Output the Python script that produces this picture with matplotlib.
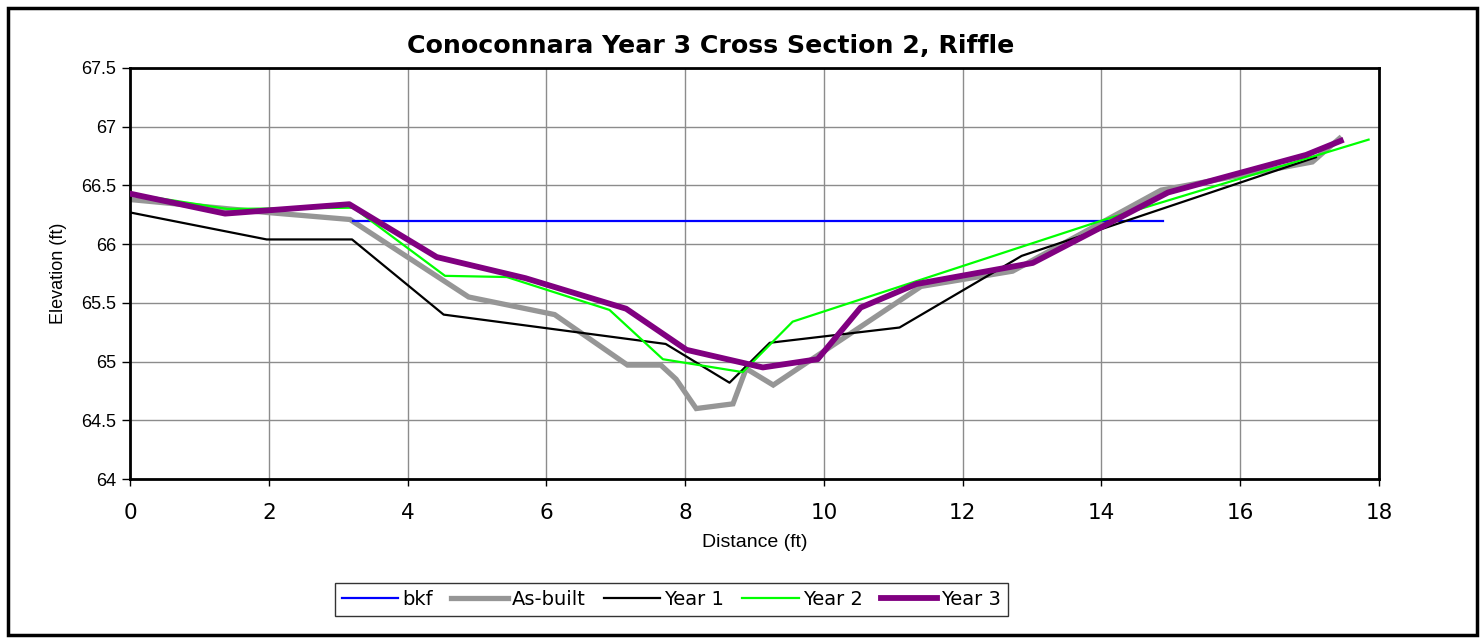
import matplotlib
matplotlib.use("Agg")
import matplotlib.pyplot as plt
from matplotlib.patches import Rectangle

plt.rcParams['font.family'] = ['Liberation Sans', 'DejaVu Sans']

# Cross-section survey data: station (ft) and elevation (ft)
bkf_x = [3.22, 14.88]
bkf_y = [66.20, 66.20]

asbuilt_x = [0.0, 1.97, 3.17, 4.88, 6.12, 7.17, 7.65, 7.87, 8.16, 8.69, 8.88, 9.27,
             11.40, 12.72, 14.86, 17.04, 17.43]
asbuilt_y = [66.38, 66.27, 66.21, 65.55, 65.40, 64.97, 64.97, 64.85, 64.60, 64.64, 64.94, 64.80,
             65.64, 65.77, 66.46, 66.70, 66.90]

year1_x = [0.0, 1.97, 3.20, 4.52, 7.72, 8.64, 9.22, 11.09, 12.85, 17.09]
year1_y = [66.27, 66.04, 66.04, 65.40, 65.15, 64.82, 65.16, 65.29, 65.90, 66.74]

year2_x = [0.0, 1.40, 3.22, 4.54, 5.43, 6.91, 7.68, 8.83, 9.55, 14.00, 17.85]
year2_y = [66.43, 66.30, 66.31, 65.73, 65.72, 65.44, 65.02, 64.91, 65.34, 66.20, 66.89]

year3_x = [0.0, 1.37, 3.16, 4.42, 5.70, 7.15, 8.02, 9.12, 9.91, 10.53, 11.33, 13.01,
           14.96, 16.95, 17.45]
year3_y = [66.43, 66.26, 66.34, 65.89, 65.71, 65.45, 65.10, 64.95, 65.02, 65.46, 65.66, 65.84,
           66.44, 66.76, 66.88]

x_ticks = [0, 2, 4, 6, 8, 10, 12, 14, 16, 18]
y_ticks = [64, 64.5, 65, 65.5, 66, 66.5, 67, 67.5]
y_tick_labels = ['64', '64.5', '65', '65.5', '66', '66.5', '67', '67.5']

WIDE = ['DejaVu Sans']

W, H = 1482, 639
fig = plt.figure(figsize=(W / 100, H / 100), dpi=100)
ax = fig.add_axes([130 / W, 1 - 479 / H, (1379 - 130) / W, (479 - 68) / H])

ax.plot(bkf_x, bkf_y, color='#0000FF', lw=1.6, label='bkf', zorder=3)
ax.plot(asbuilt_x, asbuilt_y, color='#969696', lw=3.8, label='As-built', zorder=2,
        solid_joinstyle='miter')
ax.plot(year1_x, year1_y, color='#000000', lw=1.6, label='Year 1', zorder=4)
ax.plot(year2_x, year2_y, color='#00FF00', lw=1.6, label='Year 2', zorder=5)
ax.plot(year3_x, year3_y, color='#800080', lw=4.2, label='Year 3', zorder=6)

ax.set_xlim(0, 18)
ax.set_ylim(64, 67.5)
ax.set_xticks(x_ticks)
ax.set_xticklabels([str(v) for v in x_ticks], family=WIDE, fontsize=15.5)
ax.set_yticks(y_ticks)
ax.set_yticklabels(y_tick_labels)
ax.tick_params(axis='x', length=5, width=1, direction='out', pad=12)
ax.tick_params(axis='y', labelsize=13, length=6, width=1, direction='out', pad=4)
ax.grid(True, color='#8c8c8c', lw=1.0)
ax.set_axisbelow(True)
for sp in ax.spines.values():
    sp.set_linewidth(2.0)
    sp.set_color('black')

ax.set_xlabel('Distance (ft)', fontsize=14, labelpad=8)
ax.set_ylabel('Elevation (ft)', fontsize=13, labelpad=10)
fig.text(711 / W, 1 - 46 / H, 'Conoconnara Year 3 Cross Section 2, Riffle',
         ha='center', va='center', fontsize=18.2, fontweight='bold', family=WIDE)

leg = fig.legend(loc='upper left', bbox_to_anchor=(335 / W, 1 - 583 / H), ncol=5,
                 prop={'family': WIDE, 'size': 14}, frameon=True, fancybox=False,
                 handlelength=2.9, handletextpad=0.2, columnspacing=0.95,
                 borderpad=0.35, borderaxespad=0)
leg.get_frame().set_edgecolor('black')
leg.get_frame().set_linewidth(1.0)

# Outer chart border
fig.patches.append(Rectangle((8 / W, 4 / H), (W - 13) / W, (H - 12) / H,
                             transform=fig.transFigure, fill=False,
                             edgecolor='black', lw=2.5))

fig.savefig('out.png', dpi=100)
